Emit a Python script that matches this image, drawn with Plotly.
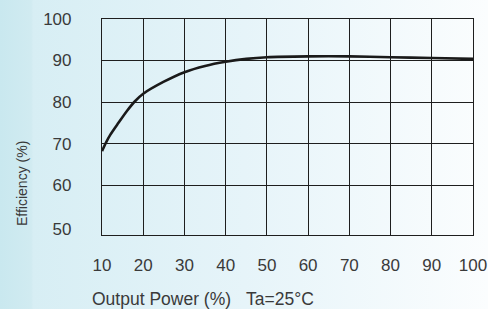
import base64
import plotly.graph_objects as go

# Data
output_power = [10, 11, 12, 14, 16, 18, 20, 25, 30, 35, 40, 45, 50, 60, 70, 80, 90, 100]
efficiency = [68.2, 70.3, 72.1, 75.0, 77.8, 80.2, 82.0, 84.9, 87.2, 88.7, 89.7, 90.4,
              90.8, 91.0, 91.0, 90.8, 90.6, 90.4]
x_ticks = [10, 20, 30, 40, 50, 60, 70, 80, 90, 100]
x_tick_labels = ["10", "20", "30", "40", "50", "60", "70", "80", "90", "100"]
y_label_vals = [49.5, 60, 70, 80, 90, 100]
y_tick_labels = ["50", "60", "70", "80", "90", "100"]
y_grid_vals = [60, 70, 80, 90]

W, H = 488, 309
L, R, T, B = 102, 15, 19, 74
pw, ph = W - L - R, H - T - B

svg = (
    '<svg xmlns="http://www.w3.org/2000/svg" width="488" height="309" preserveAspectRatio="none">'
    '<defs><linearGradient id="g" x1="0" y1="0" x2="1" y2="0">'
    '<stop offset="0" stop-color="#c9e8ef"/>'
    '<stop offset="0.064" stop-color="#d1ebf1"/>'
    '<stop offset="0.068" stop-color="#d7eef4"/>'
    '<stop offset="0.5" stop-color="#e6f4f9"/>'
    '<stop offset="1" stop-color="#fbfdfe"/>'
    '</linearGradient></defs>'
    '<rect x="0" y="0" width="488" height="309" fill="url(#g)"/></svg>'
)
src = "data:image/svg+xml;base64," + base64.b64encode(svg.encode()).decode()

fig = go.Figure()
fig.add_trace(go.Scatter(
    x=output_power, y=efficiency, mode="lines",
    line=dict(color="#1a1a1a", width=2.6, shape="spline", smoothing=0.8),
    hoverinfo="skip", showlegend=False,
))

font_main = "Liberation Sans, Arial, sans-serif"
tick_color = "#3a3a3a"
grid_color = "#1e1e1e"

fig.update_layout(
    width=W, height=H,
    margin=dict(l=L, r=R, t=T, b=B, autoexpand=False),
    paper_bgcolor="rgba(0,0,0,0)",
    plot_bgcolor="rgba(0,0,0,0)",
    showlegend=False,
    images=[dict(
        source=src, xref="paper", yref="paper",
        x=-L / pw, y=1 + T / ph, sizex=W / pw, sizey=H / ph,
        xanchor="left", yanchor="top", sizing="stretch", layer="below",
    )],
    xaxis=dict(
        range=[10, 100], automargin=False,
        tickmode="array", tickvals=x_ticks, ticktext=x_tick_labels,
        showgrid=True, gridcolor=grid_color, gridwidth=1.2,
        showline=True, linecolor=grid_color, linewidth=1.2, mirror=True,
        zeroline=False, ticks="", ticklabelstandoff=14,
        tickfont=dict(family=font_main, size=17, color=tick_color),
    ),
    yaxis=dict(
        range=[48, 100], automargin=False,
        tickmode="array", tickvals=y_label_vals, ticktext=y_tick_labels,
        showgrid=False,
        minor=dict(tickmode="array", tickvals=y_grid_vals, showgrid=True,
                   gridcolor=grid_color, gridwidth=1.2, ticks=""),
        showline=True, linecolor=grid_color, linewidth=1.2, mirror=True,
        zeroline=False, ticks="", ticklabelstandoff=26,
        tickfont=dict(family=font_main, size=17, color=tick_color),
    ),
    annotations=[
        dict(text="Output Power (%)", xref="paper", yref="paper",
             x=(90 - L) / pw, y=-(299 - (T + ph)) / ph, xanchor="left", yanchor="middle",
             showarrow=False, font=dict(family=font_main, size=17.5, color=tick_color)),
        dict(text="Ta=25°C", xref="paper", yref="paper",
             x=(244 - L) / pw, y=-(299 - (T + ph)) / ph, xanchor="left", yanchor="middle",
             showarrow=False, font=dict(family=font_main, size=17.5, color=tick_color)),
        dict(text="Efficiency (%)", xref="paper", yref="paper",
             x=(22 - L) / pw, y=1 - (184 - T) / ph, xanchor="center", yanchor="middle",
             textangle=-90, showarrow=False,
             font=dict(family=font_main, size=14, color=tick_color)),
    ],
)

fig.write_html(
    "out.html",
    config={"displayModeBar": False},
    post_script="document.body.style.margin='0';document.body.style.overflow='hidden';",
)
